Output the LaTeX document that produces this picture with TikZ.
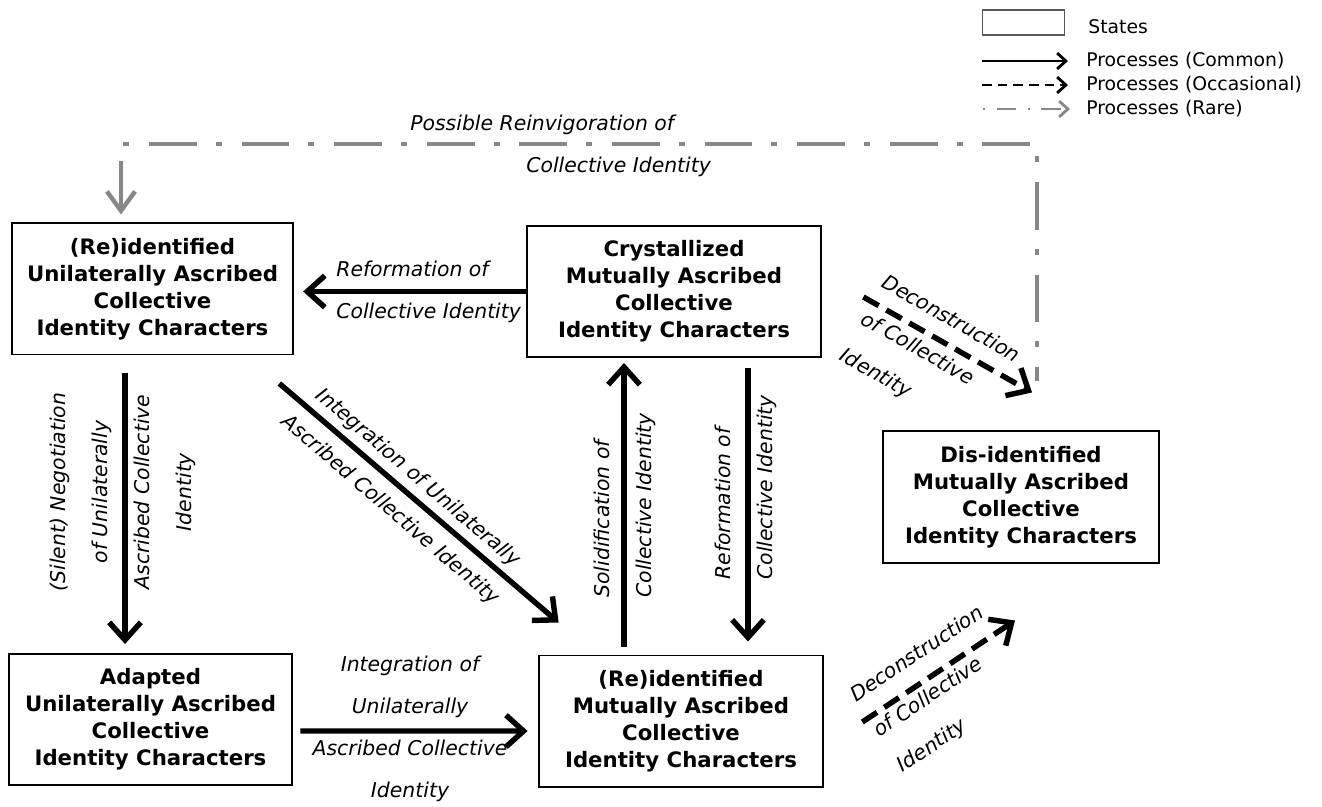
\documentclass[tikz,border=0pt]{standalone}
\usepackage{fontspec}
\setmainfont{DejaVu Sans}
\usetikzlibrary{calc, arrows.meta, positioning}

\newcommand{\statefont}{\fontsize{12.1}{15.3}\selectfont\bfseries}
\newcommand{\procfont}{\fontsize{11.6}{24}\selectfont\itshape}
\newcommand{\legfont}{\fontsize{10.7}{12}\selectfont}
\definecolor{raregray}{RGB}{135,135,135}

\begin{document}
\begin{tikzpicture}[x=0.02cm, y=-0.02cm,
        state/.style={draw, line width=1.1pt, minimum width=#1, minimum height=74.6pt, align=center, inner sep=0pt, font=\statefont},
        proc/.style={font=\procfont, align=center, inner sep=0pt},
        common/.style={line width=3.1pt, arrows={-Straight Barb[length=10pt, width=18pt]}},
        occasional/.style={common, dash pattern=on 10pt off 5pt},
        rare/.style={draw=raregray, line width=2.5pt, dash pattern=on 27.2pt off 10.8pt on 3.4pt off 11.3pt, arrows={Straight Barb[length=11pt, width=16pt]-}},
        legtext/.style={font=\legfont, anchor=west, inner sep=0pt},
        leg/.style={line width=1.6pt, arrows={-Straight Barb[length=5pt, width=9pt]}}]
        \useasboundingbox (0,0) rectangle (1322,807);

        %\draw[help lines] (0,0) grid[step=100] (1322,807);
        \node[state=160.4pt] (reUni) at (152.5,289) {(Re)identified\\Unilaterally Ascribed\\Collective\\Identity Characters};
        \node[state=167.8pt] (crys) at (674,291.5) {Crystallized\\Mutually Ascribed\\Collective\\Identity Characters};
        \node[state=157.6pt] (disId) at (1021,497) {Dis-identified\\Mutually Ascribed\\Collective\\Identity Characters};
        \node[state=161.6pt] (adapt) at (150.5,719.5) {Adapted\\Unilaterally Ascribed\\Collective\\Identity Characters};
        \node[state=162.1pt] (reMut) at (681,721) {(Re)identified\\Mutually Ascribed\\Collective\\Identity Characters};

        \draw[common, shorten >=5pt] (crys.west) -- (crys.west -| reUni.east);
        \draw[common] ($(reUni.south)+(-27.5,18)$) -- ($(adapt.north)+(-25.5,-9)$);
        \draw[common] ($(reUni.south east)+(-15,28)$) -- ($(reMut.north west)+(21,-32)$);
        \draw[common] ($(reMut.north)+(-57,-8)$) -- ($(crys.south)+(-50,5)$);
        \draw[common] ($(crys.south)+(74,10)$) -- ($(reMut.north)+(67,-13)$);
        \draw[common] ($(adapt.east)+(7,11.5)$) -- ($(reMut.west)+(-10,10)$);
        \draw[occasional] ($(crys.east)+(41,5.5)$) -- ($(disId.north)+(11,-38)$);
        \draw[occasional] ($(reMut.east)+(38,1)$) -- ($(disId.south)+(-6,57)$);

        \coordinate (reinvStart) at ($(disId.north)+(16,-49)$);
        \coordinate (reinvRight) at (1037,144);
        \coordinate (reinvLeft) at (121,144);
        \draw[rare] ($(reUni.north)+(-31.5,-8)$) -- (reinvLeft) -- (reinvRight) -- (reinvStart);

        \node[proc, align=left, anchor=west] (lblReinv) at (410,146) {Possible Reinvigoration of\\\hspace*{66pt}Collective Identity};
        \node[proc, align=left, anchor=west] (lblRefTop) at (336,292) {Reformation of\\Collective Identity};
        \node[proc, rotate=90] (lblSilent) at (123,492) {(Silent) Negotiation\\of Unilaterally\\Ascribed Collective\\Identity};
        \node[proc, rotate=-40.6] (lblIntDiag) at (404,494) {Integration of Unilaterally\\Ascribed Collective Identity};
        \node[proc, rotate=90, anchor=west, align=left] (lblSolid) at (625,598) {Solidification of\\Collective Identity};
        \node[proc, rotate=90, anchor=west, align=left] (lblRefRight) at (746,580) {Reformation of\\Collective Identity};
        \node[proc, rotate=-29.6, anchor=west, align=left] (lblDeconTop) at (862,318) {Deconstruction\\of Collective\\Identity};
        \node[proc, rotate=33.7, anchor=west, align=left] (lblDeconBot) at (876,733) {Deconstruction\\of Collective\\Identity};
        \node[proc] (lblIntBot) at (410,729) {Integration of\\Unilaterally\\Ascribed Collective\\Identity};

        \node[draw=gray!70!black, line width=0.7pt, minimum width=47pt, minimum height=14.2pt, inner sep=0pt] (legBox) at (1023.5,22.5) {};
        \node[legtext] (legState) at (1088,27) {States};
        \node[legtext] (legCommon) at (1086,61) {Processes (Common)};
        \node[legtext] (legOcc) at (1086,85) {Processes (Occasional)};
        \node[legtext] (legRare) at (1086,109) {Processes (Rare)};
        \draw[leg] ($(legCommon.west)+(-104,0)$) -- ($(legCommon.west)+(-18,0)$);
        \draw[leg, dash pattern=on 5.5pt off 3.4pt] ($(legOcc.west)+(-104,0)$) -- ($(legOcc.west)+(-18,0)$);
        \draw[leg, raregray, dash pattern=on 1.2pt off 6.5pt on 11.3pt off 6.5pt] ($(legRare.west)+(-103,0)$) -- ($(legRare.west)+(-16,0)$);
\end{tikzpicture}
\end{document}
